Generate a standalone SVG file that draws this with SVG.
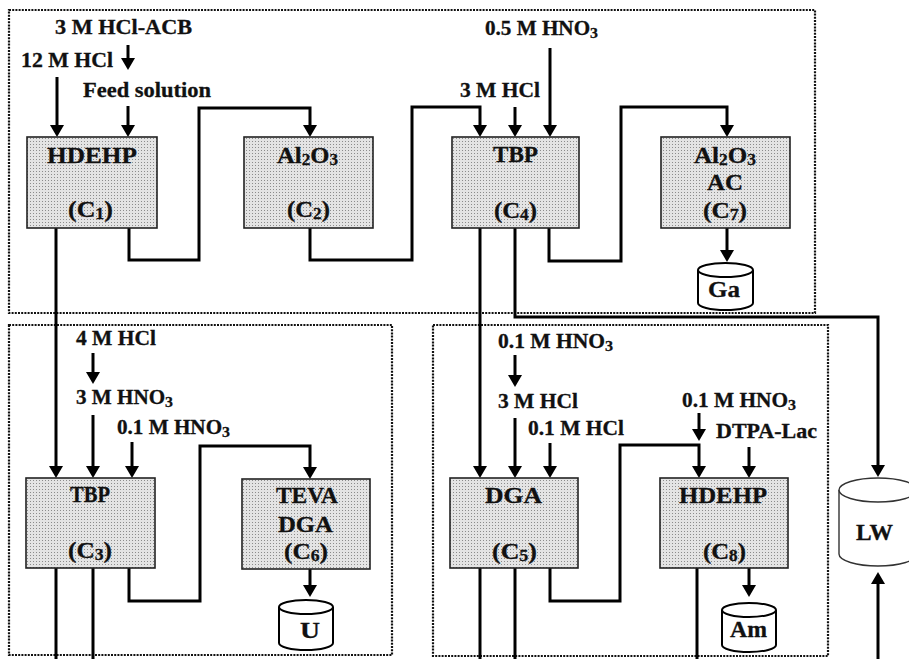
<svg xmlns="http://www.w3.org/2000/svg" width="909" height="659" viewBox="0 0 909 659">
<style>
.t{font-family:"Liberation Serif","Times New Roman",serif;font-weight:bold;font-size:20px;fill:#111;stroke:#111;stroke-width:0.3}
.b{font-family:"Liberation Serif","Times New Roman",serif;font-weight:bold;font-size:23px;fill:#111;stroke:#111;stroke-width:0.3}
.box{fill:url(#dots);stroke:#222;stroke-width:1.6}
.grp{fill:none;stroke:#111;stroke-width:2.2;stroke-dasharray:2 1.2}
.cn{fill:none;stroke:#000;stroke-width:3}
.ar{marker-end:url(#ah)}
.cyl{fill:#fff;stroke:#000;stroke-width:2}
.cylL{fill:#fff;stroke:#333;stroke-width:1.4}
</style>
<defs>
<pattern id="dots" width="3" height="3" patternUnits="userSpaceOnUse">
<rect width="3" height="3" fill="#e4e4e4"/>
<rect width="1" height="1" fill="#8c8c8c"/>
</pattern>
<marker id="ah" markerUnits="userSpaceOnUse" markerWidth="14" markerHeight="14" refX="6" refY="7" orient="auto" viewBox="0 0 12 14">
<path d="M0,0 L12,7 L0,14 z" fill="#000"/>
</marker>
</defs>
<rect width="909" height="659" fill="#fff"/>

<g id="groups">
<rect class="grp" x="9" y="10" width="806" height="303"/>
<rect class="grp" x="9" y="325" width="383" height="330"/>
<rect class="grp" x="433" y="325" width="395" height="331"/>
</g>

<g id="connectors">
<path class="cn ar" d="M57,77 V131"/>
<path class="cn ar" d="M128,45 V64"/>
<path class="cn ar" d="M128,106 V131"/>
<path class="cn ar" d="M129,228 V260 H199 V108 H310 V131"/>
<path class="cn ar" d="M310,228 V260 H412 V107 H480 V131"/>
<path class="cn ar" d="M515,107 V131"/>
<path class="cn ar" d="M550,48 V131"/>
<path class="cn ar" d="M549,228 V261 H621 V107 H727 V131"/>
<path class="cn ar" d="M727,228 V256"/>
<path class="cn ar" d="M56,228 V472"/>
<path class="cn ar" d="M480,228 V472"/>
<path class="cn ar" d="M515,228 V317 H878 V471"/>
<path class="cn ar" d="M93,353 V378"/>
<path class="cn ar" d="M93,415 V472"/>
<path class="cn ar" d="M132,442 V472"/>
<path class="cn ar" d="M129,568 V601 H200 V446 H310 V473"/>
<path class="cn ar" d="M310,569 V591"/>
<path class="cn" d="M56,568 V659"/>
<path class="cn" d="M93,568 V659"/>
<path class="cn ar" d="M515,355 V381"/>
<path class="cn ar" d="M515,418 V472"/>
<path class="cn ar" d="M550,443 V472"/>
<path class="cn ar" d="M550,568 V601 H620 V445 H699 V472"/>
<path class="cn ar" d="M699,413 V435"/>
<path class="cn ar" d="M749,447 V472"/>
<path class="cn ar" d="M749,568 V591"/>
<path class="cn" d="M480,568 V659"/>
<path class="cn" d="M515,568 V659"/>
<path class="cn" d="M697,568 V659"/>
<path class="cn ar" d="M878,659 V578"/>
</g>

<g id="labels">
<text class="t" x="55" y="34" textLength="137" lengthAdjust="spacingAndGlyphs">3 M HCl-ACB</text>
<text class="t" x="21" y="67" textLength="92" lengthAdjust="spacingAndGlyphs">12 M HCl</text>
<text class="t" x="83" y="97" textLength="128" lengthAdjust="spacingAndGlyphs">Feed solution</text>
<text class="t" x="485" y="35" textLength="113" lengthAdjust="spacingAndGlyphs">0.5 M HNO<tspan font-size="15" dy="3">3</tspan></text>
<text class="t" x="460" y="97" textLength="80" lengthAdjust="spacingAndGlyphs">3 M HCl</text>
<text class="t" x="76" y="345" textLength="80" lengthAdjust="spacingAndGlyphs">4 M HCl</text>
<text class="t" x="76" y="404" textLength="97" lengthAdjust="spacingAndGlyphs">3 M HNO<tspan font-size="15" dy="3">3</tspan></text>
<text class="t" x="117" y="434" textLength="113" lengthAdjust="spacingAndGlyphs">0.1 M HNO<tspan font-size="15" dy="3">3</tspan></text>
<text class="t" x="498" y="348" textLength="115" lengthAdjust="spacingAndGlyphs">0.1 M HNO<tspan font-size="15" dy="3">3</tspan></text>
<text class="t" x="498" y="408" textLength="80" lengthAdjust="spacingAndGlyphs">3 M HCl</text>
<text class="t" x="528" y="435" textLength="96" lengthAdjust="spacingAndGlyphs">0.1 M HCl</text>
<text class="t" x="682" y="407" textLength="114" lengthAdjust="spacingAndGlyphs">0.1 M HNO<tspan font-size="15" dy="3">3</tspan></text>
<text class="t" x="716" y="438" textLength="101" lengthAdjust="spacingAndGlyphs">DTPA-Lac</text>
</g>

<g id="C1">
<rect class="box" x="27" y="137" width="130" height="91"/>
<text class="b" x="47" y="163" textLength="90" lengthAdjust="spacingAndGlyphs">HDEHP</text>
<text class="b" x="68" y="217" textLength="45" lengthAdjust="spacingAndGlyphs">(C<tspan font-size="16" dy="2">1</tspan><tspan dy="-2">)</tspan></text>
</g>
<g id="C2">
<rect class="box" x="244" y="137" width="129" height="91"/>
<text class="b" x="277" y="163" textLength="61" lengthAdjust="spacingAndGlyphs">Al<tspan font-size="16" dy="2">2</tspan><tspan dy="-2">O</tspan><tspan font-size="16" dy="2">3</tspan></text>
<text class="b" x="287" y="217" textLength="43" lengthAdjust="spacingAndGlyphs">(C<tspan font-size="16" dy="2">2</tspan><tspan dy="-2">)</tspan></text>
</g>
<g id="C4">
<rect class="box" x="452" y="137" width="127" height="91"/>
<text class="b" x="493" y="162" textLength="45" lengthAdjust="spacingAndGlyphs">TBP</text>
<text class="b" x="494" y="218" textLength="43" lengthAdjust="spacingAndGlyphs">(C<tspan font-size="16" dy="2">4</tspan><tspan dy="-2">)</tspan></text>
</g>
<g id="C7">
<rect class="box" x="661" y="137" width="129" height="91"/>
<text class="b" x="694" y="163" textLength="62" lengthAdjust="spacingAndGlyphs">Al<tspan font-size="16" dy="2">2</tspan><tspan dy="-2">O</tspan><tspan font-size="16" dy="2">3</tspan></text>
<text class="b" x="707" y="190" textLength="36" lengthAdjust="spacingAndGlyphs">AC</text>
<text class="b" x="703" y="218" textLength="44" lengthAdjust="spacingAndGlyphs">(C<tspan font-size="16" dy="2">7</tspan><tspan dy="-2">)</tspan></text>
</g>
<g id="Ga">
<path class="cyl" d="M698,270 V303 A27.5,7 0 0 0 753,303 V270"/>
<ellipse class="cyl" cx="725.5" cy="270" rx="27.5" ry="7"/>
<text class="b" x="708" y="297" textLength="32" lengthAdjust="spacingAndGlyphs">Ga</text>
</g>
<g id="C3">
<rect class="box" x="26" y="478" width="129" height="90"/>
<text class="b" x="70" y="502" textLength="40" lengthAdjust="spacingAndGlyphs">TBP</text>
<text class="b" x="68" y="558" textLength="44" lengthAdjust="spacingAndGlyphs">(C<tspan font-size="16" dy="2">3</tspan><tspan dy="-2">)</tspan></text>
</g>
<g id="C6">
<rect class="box" x="242" y="479" width="128" height="90"/>
<text class="b" x="276" y="503" textLength="62" lengthAdjust="spacingAndGlyphs">TEVA</text>
<text class="b" x="278" y="532" textLength="55" lengthAdjust="spacingAndGlyphs">DGA</text>
<text class="b" x="284" y="559" textLength="44" lengthAdjust="spacingAndGlyphs">(C<tspan font-size="16" dy="2">6</tspan><tspan dy="-2">)</tspan></text>
</g>
<g id="U">
<path class="cyl" d="M279,607 V643 A27,7 0 0 0 333,643 V607"/>
<ellipse class="cyl" cx="306" cy="607" rx="27" ry="7"/>
<text class="b" x="300" y="638" textLength="20" lengthAdjust="spacingAndGlyphs">U</text>
</g>
<g id="C5">
<rect class="box" x="450" y="478" width="128" height="90"/>
<text class="b" x="485" y="503" textLength="57" lengthAdjust="spacingAndGlyphs">DGA</text>
<text class="b" x="492" y="559" textLength="45" lengthAdjust="spacingAndGlyphs">(C<tspan font-size="16" dy="2">5</tspan><tspan dy="-2">)</tspan></text>
</g>
<g id="C8">
<rect class="box" x="660" y="478" width="128" height="90"/>
<text class="b" x="679" y="503" textLength="88" lengthAdjust="spacingAndGlyphs">HDEHP</text>
<text class="b" x="703" y="559" textLength="43" lengthAdjust="spacingAndGlyphs">(C<tspan font-size="16" dy="2">8</tspan><tspan dy="-2">)</tspan></text>
</g>
<g id="Am">
<path class="cyl" d="M722,610 V645 A27,7 0 0 0 776,645 V610"/>
<ellipse class="cyl" cx="749" cy="610" rx="27" ry="7"/>
<text class="b" x="730" y="637" textLength="37" lengthAdjust="spacingAndGlyphs">Am</text>
</g>
<g id="LW">
<path class="cylL" d="M839,490 V554 A39,12 0 0 0 917,554 V490"/>
<ellipse class="cylL" cx="878" cy="490" rx="39" ry="12"/>
<text class="b" x="856" y="540" textLength="37" lengthAdjust="spacingAndGlyphs">LW</text>
</g>
</svg>
